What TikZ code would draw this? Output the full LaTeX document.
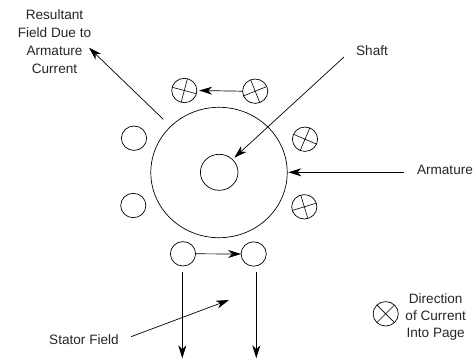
\documentclass[tikz,border=0pt]{standalone}
\usepackage{fontspec}
\setmainfont{Liberation Sans}
\usetikzlibrary{shapes.geometric,arrows.meta}
\tikzset{
  coil/.style={ellipse,draw,line width=0.7pt,minimum width=25.2pt,minimum height=24.4pt,inner sep=0pt,outer sep=0pt},
  body/.style={ellipse,draw,line width=0.7pt,inner sep=0pt,outer sep=0pt},
  lead/.style={line width=0.7pt,-{Stealth[length=13pt,width=8pt,inset=4pt]}},
  xline/.style={line width=0.6pt},
  lbl/.style={font=\fontsize{13.6}{18}\selectfont,text=black!85,align=center,inner sep=0pt,outer sep=0pt}
}
\begin{document}
\begin{tikzpicture}[x=1pt,y=-1pt]
\useasboundingbox (0,0) rectangle (474,360);
\node[body,minimum width=136.4pt,minimum height=130.4pt] (rotor) at (219,172.5) {};
\node[body,minimum width=37.6pt,minimum height=36pt] (shaft) at (219.2,172.3) {};
\node[coil] (tl) at (184.3,90.5) {};
\node[coil] (tr) at (255.2,91.2) {};
\node[coil] (lu) at (134,138.2) {};
\node[coil] (ll) at (133.3,205.5) {};
\node[coil] (ru) at (305,139.2) {};
\node[coil] (rl) at (304.3,206.8) {};
\node[coil] (bl) at (183,253.8) {};
\node[coil] (br) at (253.7,254) {};
\node[coil] (key) at (385.7,313.8) {};
\draw[xline] (tl.165)--(tl.345) (tl.75)--(tl.255);
\draw[xline] (tr.22)--(tr.202) (tr.112)--(tr.292);
\draw[xline] (ru.157)--(ru.337) (ru.67)--(ru.247);
\draw[xline] (rl.17)--(rl.197) (rl.107)--(rl.287);
\draw[xline] (key.45)--(key.225) (key.135)--(key.315);
\node[lbl] (tres) at (54.5,41.5) {Resultant\\Field Due to\\Armature\\Current};
\node[lbl] (tshaft) at (372,50.5) {Shaft};
\node[lbl,anchor=west] (tarm) at (417,170) {Armature};
\node[lbl] (tstat) at (84,339.5) {Stator Field};
\node[lbl,font=\fontsize{13.6}{17}\selectfont] (tkey) at (435.7,316.5) {Direction\\of Current\\Into Page};
\coordinate (a1) at (163.3,119.3);
\coordinate (a2) at (89,47.7);
\coordinate (s1) at (344,57);
\coordinate (s2) at (234.3,157.7);
\coordinate (m1) at (404.3,172.3);
\coordinate (m2) at (288.3,172.3);
\coordinate (f1) at (131,336.7);
\coordinate (f2) at (229,300);
\coordinate (d1) at (182.3,272.3);
\coordinate (d2) at (182.3,358.3);
\coordinate (e1) at (256.3,272.3);
\coordinate (e2) at (256.3,358.3);
\draw[lead] (a1)--(a2);
\draw[lead] (s1)--(s2);
\draw[lead] (m1)--(m2);
\draw[lead] (f1)--(f2);
\draw[lead] (d1)--(d2);
\draw[lead] (e1)--(e2);
\draw[lead] (tr.west)--([xshift=2.3pt]tl.east);
\draw[lead] (bl.east)--(br.west);
\end{tikzpicture}
\end{document}
